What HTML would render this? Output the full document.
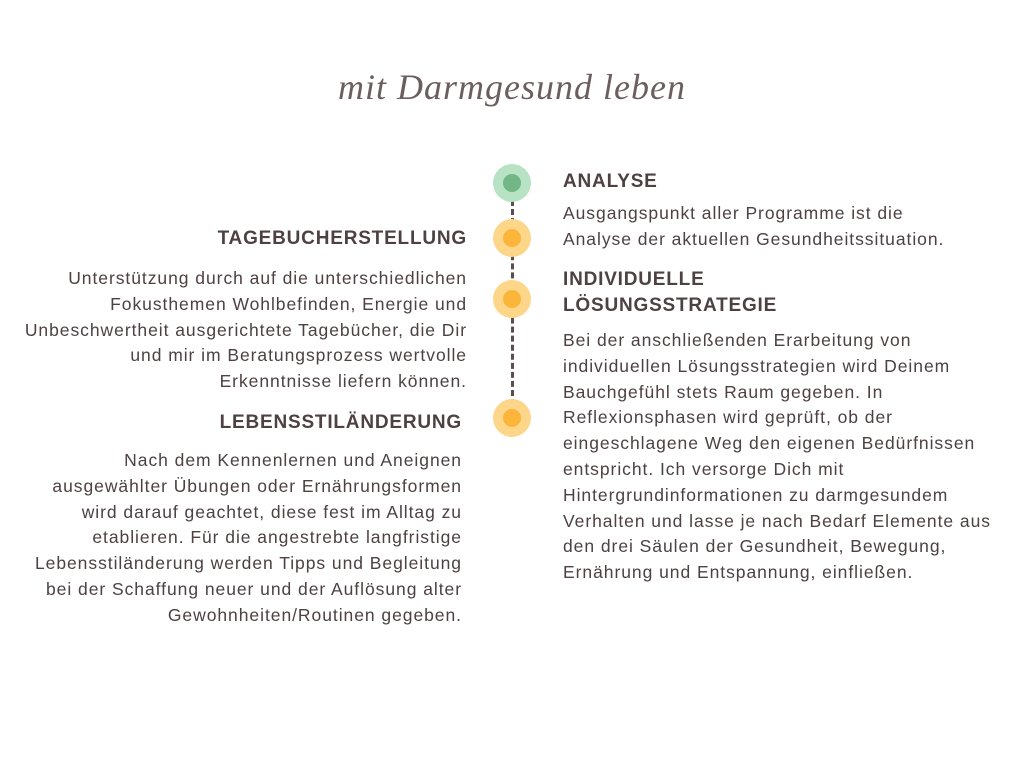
<!DOCTYPE html>
<html><head><meta charset="utf-8"><style>
body{margin:0;width:1024px;height:768px;background:#fff;position:relative;overflow:hidden;font-family:"Liberation Sans","DejaVu Sans",sans-serif;color:#4d4142}
.t{position:absolute;font-size:17.5px;letter-spacing:0.95px;line-height:25.8px;white-space:nowrap}
.h{position:absolute;font-size:19px;font-weight:bold;letter-spacing:0.8px;color:#4d4142;white-space:nowrap;line-height:26px}
.r{text-align:right}
.c{position:absolute;width:38px;height:38px;border-radius:50%;background:#fdd68a}
.c i{position:absolute;left:10px;top:10px;width:18px;height:18px;border-radius:50%;background:#fbb53a}
.g{background:#b7e2c4}.g i{background:#72b587}
</style></head><body>
<div style="position:absolute;left:0;width:1024px;top:66px;text-align:center;font-family:'Liberation Serif',serif;font-style:italic;font-size:36px;color:#6a5e5f;letter-spacing:1px">mit Darmgesund leben</div>
<div style="position:absolute;left:511px;top:200px;height:205px;border-left:3px dashed #5a4e4f"></div>
<div class="c g" style="left:493px;top:164px"><i></i></div>
<div class="c" style="left:493px;top:219px"><i></i></div>
<div class="c" style="left:493px;top:280px"><i></i></div>
<div class="c" style="left:493px;top:399px"><i></i></div>

<div class="h" style="left:563px;top:169px">ANALYSE</div>
<div class="t" style="left:563px;top:201px">Ausgangspunkt aller Programme ist die<br>Analyse der aktuellen Gesundheitssituation.</div>
<div class="h" style="left:563px;top:267px">INDIVIDUELLE<br>LÖSUNGSSTRATEGIE</div>
<div class="t" style="left:563px;top:328px">Bei der anschließenden Erarbeitung von<br>individuellen Lösungsstrategien wird Deinem<br>Bauchgefühl stets Raum gegeben. In<br>Reflexionsphasen wird geprüft, ob der<br>eingeschlagene Weg den eigenen Bedürfnissen<br>entspricht. Ich versorge Dich mit<br>Hintergrundinformationen zu darmgesundem<br>Verhalten und lasse je nach Bedarf Elemente aus<br>den drei Säulen der Gesundheit, Bewegung,<br>Ernährung und Entspannung, einfließen.</div>

<div class="h r" style="right:557px;top:226px">TAGEBUCHERSTELLUNG</div>
<div class="t r" style="right:557px;top:266px">Unterstützung durch auf die unterschiedlichen<br>Fokusthemen Wohlbefinden, Energie und<br>Unbeschwertheit ausgerichtete Tagebücher, die Dir<br>und mir im Beratungsprozess wertvolle<br>Erkenntnisse liefern können.</div>
<div class="h r" style="right:562px;top:410px">LEBENSSTILÄNDERUNG</div>
<div class="t r" style="right:562px;top:448px">Nach dem Kennenlernen und Aneignen<br>ausgewählter Übungen oder Ernährungsformen<br>wird darauf geachtet, diese fest im Alltag zu<br>etablieren. Für die angestrebte langfristige<br>Lebensstiländerung werden Tipps und Begleitung<br>bei der Schaffung neuer und der Auflösung alter<br>Gewohnheiten/Routinen gegeben.</div>
</body></html>
